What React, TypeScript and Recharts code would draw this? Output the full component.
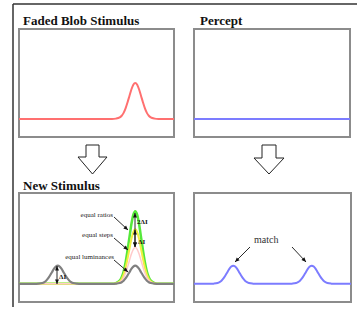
import React from 'react';
import { LineChart, Line, XAxis, YAxis, ReferenceArea } from 'recharts';

// sample positions along the horizontal axis (0..1)
const xs = [0, 0.1, 0.125, 0.15, 0.1625, 0.175, 0.1875, 0.2, 0.2125, 0.225, 0.2375, 0.25, 0.2625, 0.275, 0.2875, 0.3, 0.3125, 0.325, 0.3375, 0.35, 0.375, 0.4,
  0.5,
  0.6, 0.625, 0.65, 0.6625, 0.675, 0.6875, 0.7, 0.7125, 0.725, 0.7375, 0.75, 0.7625, 0.775, 0.7875, 0.8, 0.8125, 0.825, 0.8375, 0.85, 0.875, 0.9, 1];

// Faded blob stimulus (red)
const fadedBlob = [0, 0, 0, 0, 0, 0, 0, 0, 0, 0, 0, 0, 0, 0, 0, 0, 0, 0, 0, 0, 0, 0,
  0,
  0, 0.01, 0.044, 0.09, 0.17, 0.295, 0.46, 0.64, 0.82, 0.95, 1, 0.95, 0.82, 0.64, 0.46, 0.295, 0.17, 0.09, 0.044, 0.01, 0, 0];

// Percept (blue, flat)
const perceptFlat = [0, 0, 0, 0, 0, 0, 0, 0, 0, 0, 0, 0, 0, 0, 0, 0, 0, 0, 0, 0, 0, 0,
  0,
  0, 0, 0, 0, 0, 0, 0, 0, 0, 0, 0, 0, 0, 0, 0, 0, 0, 0, 0, 0, 0, 0];

// New stimulus: equal ratios (green)
const equalRatios = [0, 0, 0, 0, 0, 0, 0, 0, 0, 0, 0, 0, 0, 0, 0, 0, 0, 0, 0, 0, 0, 0,
  0,
  0, 0.02, 0.088, 0.18, 0.34, 0.59, 0.92, 1.28, 1.64, 1.9, 2, 1.9, 1.64, 1.28, 0.92, 0.59, 0.34, 0.18, 0.088, 0.02, 0, 0];

// New stimulus: equal steps (yellow)
const equalSteps = [0, 0, 0, 0, 0, 0, 0, 0, 0, 0, 0, 0, 0, 0, 0, 0, 0, 0, 0, 0, 0, 0,
  0,
  0, 0.015, 0.066, 0.135, 0.255, 0.443, 0.69, 0.96, 1.23, 1.425, 1.5, 1.425, 1.23, 0.96, 0.69, 0.443, 0.255, 0.135, 0.066, 0.015, 0, 0];

// New stimulus: equal luminances (gray)
const equalLuminances = [0, 0, 0.005, 0.022, 0.045, 0.085, 0.148, 0.23, 0.32, 0.41, 0.475, 0.5, 0.475, 0.41, 0.32, 0.23, 0.148, 0.085, 0.045, 0.022, 0.005, 0,
  0,
  0, 0.005, 0.022, 0.045, 0.085, 0.148, 0.23, 0.32, 0.41, 0.475, 0.5, 0.475, 0.41, 0.32, 0.23, 0.148, 0.085, 0.045, 0.022, 0.005, 0, 0];

// Percept of new stimulus (blue)
const perceptMatch = [0, 0, 0.005, 0.022, 0.045, 0.085, 0.148, 0.23, 0.32, 0.41, 0.475, 0.5, 0.475, 0.41, 0.32, 0.23, 0.148, 0.085, 0.045, 0.022, 0.005, 0,
  0,
  0, 0.005, 0.022, 0.045, 0.085, 0.148, 0.23, 0.32, 0.41, 0.475, 0.5, 0.475, 0.41, 0.32, 0.23, 0.148, 0.085, 0.045, 0.022, 0.005, 0, 0];

const yTicks = [0, 1, 2];
const yDomain: [number, number] = [-0.5, 2.5];

const rows = xs.map((x, i) => ({
  x,
  faded: fadedBlob[i],
  flat: perceptFlat[i],
  ratios: equalRatios[i],
  steps: equalSteps[i],
  lums: equalLuminances[i],
  match: perceptMatch[i],
}));

type S = { key: string; color: string; width: number };

const FONT = "'Liberation Serif', 'DejaVu Serif', serif";
const tStyle: React.CSSProperties = { fontFamily: FONT };

function Panel({ left, top, width, height, series }: { left: number; top: number; width: number; height: number; series: S[] }) {
  const m = 4;
  return (
    <div style={{ position: 'absolute', left: left - m, top: top - m }}>
      <LineChart width={width + 2 * m} height={height + 2 * m} data={rows} margin={{ top: m, right: m, bottom: m, left: m }}>
        <XAxis dataKey="x" type="number" domain={[0, 1]} hide />
        <YAxis yAxisId="l" type="number" domain={yDomain} ticks={yTicks} width={0} mirror axisLine={false}
          tickSize={3} tickLine={{ stroke: '#777', strokeWidth: 1.5 }} tickFormatter={() => ''} />
        <YAxis yAxisId="r" orientation="right" type="number" domain={yDomain} ticks={yTicks} width={0} mirror axisLine={false}
          tickSize={3} tickLine={{ stroke: '#777', strokeWidth: 1.5 }} tickFormatter={() => ''} />
        {series.map((s) => (
          <Line key={s.key} yAxisId="l" dataKey={s.key} type="monotone" stroke={s.color} strokeWidth={s.width}
            dot={false} activeDot={false} isAnimationActive={false} />
        ))}
        <ReferenceArea yAxisId="l" x1={0} x2={1} y1={-0.5} y2={2.5} fill="none" stroke="#8c8c8c" strokeWidth={2} ifOverflow="visible" />
      </LineChart>
    </div>
  );
}

function Arrow({ x1, y1, x2, y2, both }: { x1: number; y1: number; x2: number; y2: number; both?: boolean }) {
  const head = (ax: number, ay: number, bx: number, by: number) => {
    const ang = Math.atan2(by - ay, bx - ax);
    const L = 4.5, W = 2;
    const px = bx - L * Math.cos(ang), py = by - L * Math.sin(ang);
    const nx = -Math.sin(ang) * W, ny = Math.cos(ang) * W;
    return `M${bx},${by} L${px + nx},${py + ny} L${px - nx},${py - ny} Z`;
  };
  return (
    <g>
      <line x1={x1} y1={y1} x2={x2} y2={y2} stroke="#111" strokeWidth={0.9} />
      <path d={head(x1, y1, x2, y2)} fill="#111" />
      {both && <path d={head(x2, y2, x1, y1)} fill="#111" />}
    </g>
  );
}

export default function App() {
  return (
    <div style={{ position: 'absolute', left: 0, top: 0, width: 357, height: 309, background: '#fff', fontFamily: FONT }}>
      <Panel left={19} top={29} width={155} height={108} series={[{ key: 'faded', color: '#ff7070', width: 2 }]} />
      <Panel left={194} top={29} width={156} height={108} series={[{ key: 'flat', color: '#7c7cff', width: 2 }]} />
      <Panel left={19} top={193} width={155} height={109} series={[
        { key: 'ratios', color: '#55e83a', width: 2.5 },
        { key: 'steps', color: '#f2ee40', width: 2 },
        { key: 'faded', color: '#ffcaca', width: 1.5 },
        { key: 'lums', color: '#808080', width: 2.2 },
      ]} />
      <Panel left={194} top={193} width={157} height={109} series={[{ key: 'match', color: '#7c7cff', width: 2 }]} />

      <svg width={357} height={309} style={{ position: 'absolute', left: 0, top: 0, pointerEvents: 'none' }}>
        <line x1={13} y1={4} x2={357} y2={4} stroke="#333" strokeWidth={1.5} />
        <line x1={13} y1={4} x2={13} y2={307} stroke="#333" strokeWidth={1.5} />

        <polygon points="86,145 99,145 99,157 107,157 92.5,174 78,157 86,157" fill="#fff" stroke="#222" strokeWidth={1} />
        <polygon points="262,145 276,145 276,158 284,158 269,174 254,158 262,158" fill="#fff" stroke="#222" strokeWidth={1} />

        <text x={23} y={25} fontSize={13} fontWeight="bold" fill="#111" style={tStyle}>Faded Blob Stimulus</text>
        <text x={200} y={25} fontSize={13} fontWeight="bold" fill="#111" style={tStyle}>Percept</text>
        <text x={23} y={190} fontSize={13} fontWeight="bold" fill="#111" style={tStyle}>New Stimulus</text>

        <text x={113} y={217} fontSize={7} textAnchor="end" fill="#222" style={tStyle}>equal ratios</text>
        <Arrow x1={114} y1={217} x2={128} y2={230} />
        <text x={113} y={237} fontSize={7} textAnchor="end" fill="#222" style={tStyle}>equal steps</text>
        <Arrow x1={114} y1={238} x2={128} y2={250} />
        <text x={114} y={259} fontSize={7} textAnchor="end" fill="#222" style={tStyle}>equal luminances</text>
        <Arrow x1={114} y1={260} x2={128} y2={272} />

        <Arrow x1={135} y1={213} x2={135} y2={247} both />
        <Arrow x1={135} y1={230} x2={135} y2={247} both />
        <text x={137} y={224} fontSize={7} fontWeight="bold" fill="#111" style={tStyle}>2ΔI</text>
        <text x={138} y={244} fontSize={7} fontWeight="bold" fill="#111" style={tStyle}>ΔI</text>

        <Arrow x1={57} y1={266} x2={57} y2={284} both />
        <text x={59} y={279} fontSize={7} fontWeight="bold" fill="#111" style={tStyle}>ΔI</text>

        <text x={254} y={243} fontSize={10} fill="#333" style={tStyle}>match</text>
        <Arrow x1={250} y1={247} x2={235} y2={262} />
        <Arrow x1={292} y1={247} x2={306} y2={262} />
      </svg>
    </div>
  );
}
